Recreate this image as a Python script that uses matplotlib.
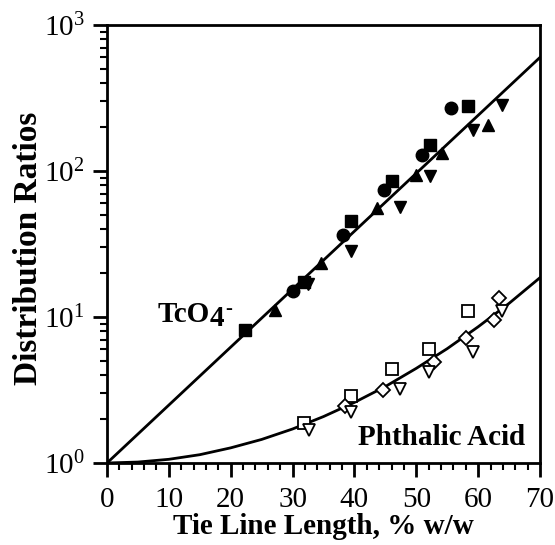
import matplotlib
matplotlib.use("Agg")
import matplotlib.pyplot as plt
from matplotlib.ticker import MultipleLocator, LogLocator, NullFormatter

plt.rcParams['font.family'] = ['Liberation Serif', 'DejaVu Serif']
plt.rcParams['mathtext.fontset'] = 'custom'
plt.rcParams['mathtext.rm'] = 'Liberation Serif'
plt.rcParams['mathtext.bf'] = 'Liberation Serif:bold'

# TcO4- data (filled symbols)
tc_circ_x = [30.0, 38.1, 44.7, 51.0, 55.6]
tc_circ_y = [15.1, 36.6, 74.6, 129, 269]
tc_sq_x = [22.3, 31.9, 39.4, 46.1, 52.2, 58.4]
tc_sq_y = [8.1, 17.3, 45.8, 86, 151, 280]
tc_up_x = [27.2, 34.6, 43.6, 50.0, 54.1, 61.6]
tc_up_y = [11.2, 23.4, 56, 94, 132, 207]
tc_dn_x = [32.5, 39.4, 47.4, 52.2, 59.2, 63.9]
tc_dn_y = [16.9, 28.1, 56.5, 92, 191, 283]

# phthalic acid data (open symbols)
ph_sq_x = [31.8, 39.4, 46.0, 52.1, 58.4]
ph_sq_y = [1.89, 2.87, 4.37, 6.08, 11.0]
ph_dia_x = [38.4, 44.6, 52.8, 58.0, 62.6, 63.4]
ph_dia_y = [2.46, 3.15, 4.93, 7.23, 9.5, 13.5]
ph_dn_x = [32.7, 39.4, 47.3, 52.1, 59.1, 63.8]
ph_dn_y = [1.68, 2.24, 3.19, 4.21, 5.77, 11.0]

# fitted curves
tc_fit_x = [0, 70]
tc_fit_y = [1.0, 600]
ph_fit_x = [0, 5, 10, 15, 20, 25, 30, 35, 40, 45, 50, 55, 60, 65, 70]
ph_fit_y = [1.0, 1.015, 1.06, 1.14, 1.27, 1.45, 1.71, 2.08, 2.60, 3.34,
            4.45, 6.07, 8.57, 12.4, 18.6]

fig = plt.figure(figsize=(5.55, 5.45), dpi=100)
ax = fig.add_axes([107/555, 1-463/545, 433/555, 438/545])

ax.plot(tc_fit_x, tc_fit_y, color='black', lw=2)
ax.plot(ph_fit_x, ph_fit_y, color='black', lw=2)

ms = 9
ax.plot(tc_circ_x, tc_circ_y, 'o', color='black', ms=ms)
ax.plot(tc_sq_x, tc_sq_y, 's', color='black', ms=ms - 1)
ax.plot(tc_up_x, tc_up_y, '^', color='black', ms=ms)
ax.plot(tc_dn_x, tc_dn_y, 'v', color='black', ms=ms)

ax.plot(ph_sq_x, ph_sq_y, 's', mfc='white', mec='black', mew=1.3, ms=ms - 1)
ax.plot(ph_dia_x, ph_dia_y, 'D', mfc='white', mec='black', mew=1.3, ms=ms - 2)
ax.plot(ph_dn_x, ph_dn_y, 'v', mfc='white', mec='black', mew=1.3, ms=ms)

ax.set_yscale('log')
ax.set_xlim(0, 70)
ax.set_ylim(1, 1000)
ax.xaxis.set_major_locator(MultipleLocator(10))
ax.xaxis.set_minor_locator(MultipleLocator(2))
ax.yaxis.set_major_locator(LogLocator(base=10))
ax.yaxis.set_minor_locator(LogLocator(base=10, subs=range(2, 10)))
ax.yaxis.set_minor_formatter(NullFormatter())

for s in ax.spines.values():
    s.set_linewidth(2)
ax.tick_params(which='major', direction='out', length=10, width=2)
ax.tick_params(which='minor', direction='out', length=5, width=1.5)
ax.tick_params(axis='x', which='major', labelsize=21, pad=7)
ax.tick_params(axis='y', which='major', labelsize=21, pad=6)

ax.set_xlabel('Tie Line Length, % w/w', fontsize=21, fontweight='bold')
ax.xaxis.set_label_coords(0.5, -0.115)
ax.set_ylabel('Distribution Ratios', fontsize=24, fontweight='bold')
ax.yaxis.set_label_coords(-0.145, 0.49)

t1 = ax.text(8.1, 9.3, 'TcO', fontsize=21, fontweight='bold', ha='left', va='baseline')
t2 = ax.annotate('4', xy=(1, 0), xycoords=t1, xytext=(0, -3), textcoords='offset points',
                 fontsize=21, fontweight='bold', ha='left', va='bottom')
ax.annotate('-', xy=(1, 1), xycoords=t2, xytext=(1, 4), textcoords='offset points',
            fontsize=15, fontweight='bold', ha='left', va='top')
ax.text(40.5, 1.5, 'Phthalic Acid', fontsize=21, fontweight='bold', ha='left', va='center')

fig.savefig('out.png', dpi=100)
